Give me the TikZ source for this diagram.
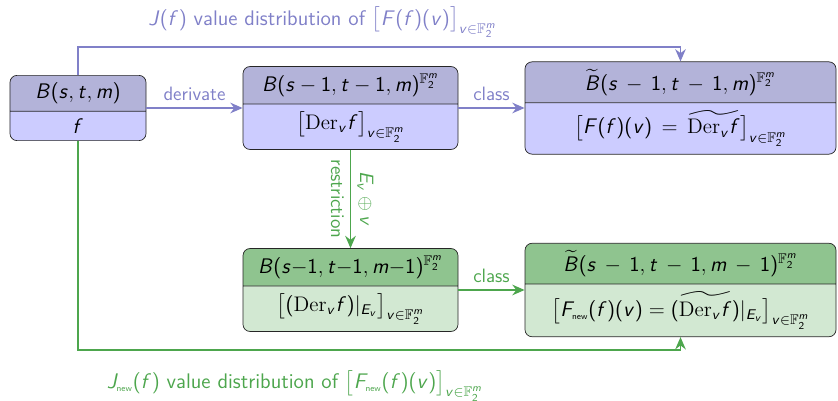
\documentclass[tikz,border=0pt]{standalone}
\usepackage{amsmath,amssymb}
\renewcommand{\familydefault}{\sfdefault}
\usetikzlibrary{arrows.meta, shapes.multipart}

% sans serif math, as in slides
\DeclareSymbolFont{sfletters}{OT1}{cmss}{m}{sl}
\SetSymbolFont{operators}{normal}{OT1}{cmss}{m}{n}
\newcommand{\sfletter}[1]{\DeclareMathSymbol{#1}{\mathalpha}{sfletters}{`#1}}
\sfletter{B}\sfletter{E}\sfletter{F}\sfletter{J}
\sfletter{f}\sfletter{m}\sfletter{s}\sfletter{t}\sfletter{v}

\definecolor{purpHead}{RGB}{179,179,217}
\definecolor{purpBody}{RGB}{204,204,255}
\definecolor{greenHead}{RGB}{143,196,143}
\definecolor{greenBody}{RGB}{210,232,210}
\definecolor{purpLine}{RGB}{128,128,200}
\definecolor{greenLine}{RGB}{77,166,77}

\newcommand{\Derop}{\text{\rmfamily\upshape Der}}
\newcommand{\Ftwo}{\mathbb{F}_2^m}
\newcommand{\newsub}{\text{\fontsize{5}{6}\selectfont new}}

\begin{document}
\begin{tikzpicture}[
  box/.style={rectangle split, rectangle split parts=2, draw=black!85,
              rounded corners, font=\large, inner ysep=4pt},
  pbox/.style={box, rectangle split part fill={purpHead,purpBody}},
  gbox/.style={box, rectangle split part fill={greenHead,greenBody}},
  parr/.style={-{Stealth[length=7pt,width=6pt]}, line width=1.1pt, purpLine},
  garr/.style={-{Stealth[length=7pt,width=6pt]}, line width=1.1pt, greenLine},
  lbl/.style={font=\fontsize{11}{13}\selectfont},
  jlbl/.style={font=\large, inner sep=1pt}
]
  \useasboundingbox (0,0) rectangle (16.76,8.02);

  \node[pbox, minimum width=2.72cm] (bst) at (1.56,5.86)
    {$B(s,t,m)$ \nodepart{two} $f$};
  \node[pbox, minimum width=4.30cm] (bder) at (7.01,5.86)
    {$B(s-1,t-1,m)^{\Ftwo}$ \nodepart{two} $\big[\Derop_v f\big]_{v\in\Ftwo}$};
  \node[pbox, minimum width=6.22cm] (bcls) at (13.61,5.86)
    {$\widetilde{B}(s\,-\,1,t\,-\,1,m)^{\Ftwo}$
     \nodepart{two} $\big[F(f)(v)\,=\,\widetilde{\Derop_v f}\big]_{v\in\Ftwo}$};
  \node[gbox, minimum width=4.30cm] (bres) at (7.01,2.22)
    {$B(s{-}1,t{-}1,m{-}1)^{\Ftwo}$
     \nodepart{two} $\big[(\Derop_v f)|_{E_v}\big]_{v\in\Ftwo}$};
  \node[gbox, minimum width=6.22cm] (bnew) at (13.61,2.22)
    {$\widetilde{B}(s\,-\,1,t\,-\,1,m\,-\,1)^{\Ftwo}$
     \nodepart{two} $\big[F_{\newsub}(f)(v) = \widetilde{(\Derop_v f)}|_{E_v}\big]_{v\in\Ftwo}$};

  \coordinate (jtop) at (0,7.08);
  \coordinate (jbot) at (0,1.02);

  \draw[parr] (bst) -- node[above, lbl]{derivate} (bder);
  \draw[parr] (bder) -- node[above, lbl]{class} (bcls);
  \draw[garr] (bder) -- node[sloped, above, lbl]{$E_v\oplus v$}
                        node[sloped, below, lbl]{restriction} (bres);
  \draw[garr] (bres) -- node[above, lbl]{class} (bnew);

  \draw[parr] (bst.north) -- (bst.north |- jtop) -| (bcls.north);
  \draw[garr] (bst.south) -- (bst.south |- jbot) -| (bnew.south);

  \node[jlbl, purpLine] (jlab) at (6.45,7.57)
    {$J(f)$ value distribution of $\big[F(f)(v)\big]_{v\in\Ftwo}$};
  \node[jlbl, greenLine] (jnew) at (5.9,0.3)
    {$J_{\newsub}(f)$ value distribution of $\big[F_{\newsub}(f)(v)\big]_{v\in\Ftwo}$};
\end{tikzpicture}
\end{document}
